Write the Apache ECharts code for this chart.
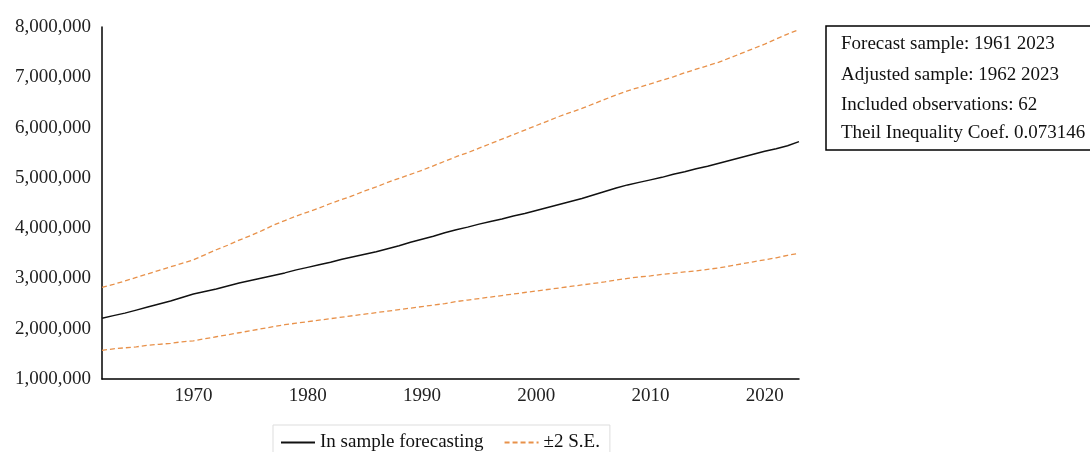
<!DOCTYPE html>
<html>
<head>
<meta charset="utf-8">
<script src="https://cdn.jsdelivr.net/npm/echarts@6/dist/echarts.min.js"></script>
<style>
html,body{margin:0;padding:0;background:#fff;}
#chart{width:1090px;height:452px;}
</style>
</head>
<body>
<div id="chart"></div>
<script>
// Years 1962..2023
var years = [];
for (var y = 1962; y <= 2023; y++) years.push(String(y));

// In sample forecast (millions)
var forecast = [2.21,2.26,2.31,2.37,2.43,2.49,2.55,2.62,2.69,2.74,
  2.79,2.85,2.91,2.96,3.01,3.06,3.11,3.17,3.22,3.27,
  3.32,3.38,3.43,3.48,3.53,3.59,3.65,3.72,3.78,3.84,
  3.91,3.97,4.02,4.08,4.13,4.18,4.24,4.29,4.35,4.41,
  4.47,4.53,4.59,4.66,4.73,4.80,4.86,4.91,4.96,5.01,
  5.07,5.12,5.18,5.23,5.29,5.35,5.41,5.47,5.53,5.58,
  5.64,5.72];
// +2 S.E. band (millions)
var upper = [2.82,2.88,2.95,3.02,3.09,3.16,3.23,3.30,3.37,3.47,
  3.57,3.66,3.76,3.85,3.95,4.06,4.15,4.24,4.32,4.40,
  4.49,4.57,4.65,4.74,4.82,4.91,4.99,5.07,5.15,5.24,
  5.33,5.42,5.50,5.59,5.68,5.77,5.86,5.95,6.04,6.13,
  6.22,6.30,6.38,6.47,6.56,6.65,6.73,6.80,6.87,6.94,
  7.01,7.09,7.16,7.23,7.30,7.39,7.48,7.57,7.66,7.76,
  7.86,7.95];
// -2 S.E. band (millions)
var lower = [1.57,1.60,1.62,1.64,1.67,1.69,1.71,1.74,1.76,1.80,
  1.84,1.88,1.92,1.96,2.00,2.04,2.08,2.11,2.14,2.17,
  2.20,2.23,2.26,2.29,2.32,2.35,2.38,2.41,2.44,2.47,
  2.50,2.54,2.57,2.60,2.63,2.66,2.69,2.72,2.75,2.78,
  2.81,2.84,2.87,2.90,2.93,2.97,3.00,3.03,3.05,3.08,
  3.10,3.13,3.15,3.18,3.21,3.25,3.29,3.33,3.37,3.41,
  3.46,3.50];

var infoLines = [
  'Forecast sample: 1961 2023',
  'Adjusted sample: 1962 2023',
  'Included observations: 62',
  'Theil Inequality Coef. 0.073146'
];

var SCALE = 1000000;
function toAbs(a){ return a.map(function(v){ return Math.round(v * SCALE); }); }

var FONT = 'Liberation Serif';
var ORANGE = '#E8914A';

var chart = echarts.init(document.getElementById('chart'), null, {renderer:'canvas'});

var graphics = [{
  type: 'rect',
  shape: {x: 826, y: 26, width: 300, height: 124},
  style: {fill: '#fff', stroke: '#000', lineWidth: 1.5}
}];
var lineY = [44, 75, 105, 133];
infoLines.forEach(function(t, i){
  graphics.push({
    type: 'text',
    x: 841, y: lineY[i],
    style: {text: t, font: '19px "Liberation Serif"', fill: '#111', verticalAlign: 'middle'}
  });
});

chart.setOption({
  animation: false,
  backgroundColor: '#fff',
  grid: {left: 102, right: 291, top: 27, bottom: 73, containLabel: false},
  legend: {
    data: ['In sample forecasting', '±2 S.E.'],
    left: 273, top: 425,
    padding: [8, 10, 20, 7],
    borderColor: '#dddddd', borderWidth: 1,
    itemWidth: 34, itemHeight: 14, itemGap: 20,
    itemStyle: {opacity: 0},
    textStyle: {fontFamily: FONT, fontSize: 19, color: '#111'}
  },
  xAxis: {
    type: 'category',
    data: years,
    boundaryGap: false,
    axisLine: {lineStyle: {color: '#000', width: 1.5}},
    axisTick: {show: false},
    splitLine: {show: false},
    axisLabel: {
      fontFamily: FONT, fontSize: 19, color: '#222', margin: 8,
      interval: function(idx, val){ return Number(val) % 10 === 0; }
    }
  },
  yAxis: {
    type: 'value',
    min: 1000000, max: 8000000, interval: 1000000,
    axisLine: {show: true, lineStyle: {color: '#000', width: 1.5}},
    axisTick: {show: false},
    splitLine: {show: false},
    axisLabel: {
      fontFamily: FONT, fontSize: 19, color: '#222', margin: 11,
      padding: [0, 0, 8, 0],
      formatter: function(v){ return v.toLocaleString('en-US'); }
    }
  },
  series: [
    {
      name: 'In sample forecasting', type: 'line', data: toAbs(forecast),
      symbol: 'none', lineStyle: {color: '#111', width: 1.5}, itemStyle: {color: '#111'}
    },
    {
      name: '±2 S.E.', type: 'line', data: toAbs(upper),
      symbol: 'none', lineStyle: {color: ORANGE, width: 1.3, type: [5, 3]}, itemStyle: {color: ORANGE}
    },
    {
      name: '±2 S.E.', type: 'line', data: toAbs(lower),
      symbol: 'none', lineStyle: {color: ORANGE, width: 1.3, type: [5, 3]}, itemStyle: {color: ORANGE}
    }
  ],
  graphic: graphics
});
</script>
</body>
</html>
